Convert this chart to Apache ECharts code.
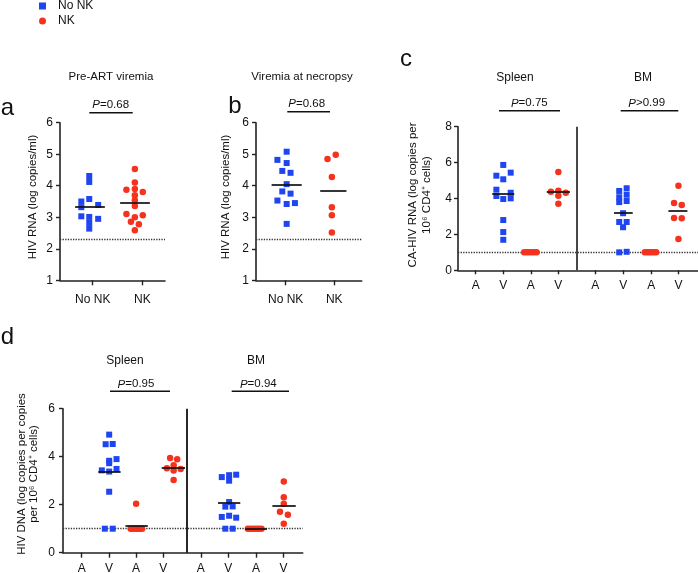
<!DOCTYPE html>
<html>
<head>
<meta charset="utf-8">
<script src="https://cdn.jsdelivr.net/npm/echarts@6/dist/echarts.min.js"></script>
<style>
html,body{margin:0;padding:0;background:#fff;}
#main{width:698px;height:573px;}
</style>
</head>
<body>
<div id="main"></div>
<script>
// ---------------- DATA ----------------
const groupNames = ['No NK', 'NK'];

// Panel a: Pre-ART viremia
const aTickLabels = ['No NK', 'NK'];
const aNoNK = [4.31, 4.12, 3.58, 3.50, 3.39, 3.32, 3.03, 3.01, 2.95, 2.82, 2.64];
const aNoNKJitter = [-0.07, -0.07, -0.07, -0.23, 0.11, -0.23, -0.23, -0.07, 0.11, -0.07, -0.07];
const aNK = [4.53, 4.10, 3.90, 3.87, 3.80, 3.70, 3.54, 3.36, 3.10, 3.06, 3.00, 2.86, 2.78, 2.59];
const aNKJitter = [-0.15, -0.15, -0.15, -0.32, 0.01, -0.15, -0.15, -0.15, -0.32, 0.01, -0.15, -0.23, -0.07, -0.15];
const aCenters = [3.34, 3.45];
const aLimit = 2.3;

// Panel b: Viremia at necropsy
const bTickLabels = ['No NK', 'NK'];
const bNoNK = [5.08, 4.82, 4.72, 4.47, 4.41, 4.05, 3.82, 3.75, 3.53, 3.45, 3.42, 2.79];
const bNoNKJitter = [0.02, -0.17, 0.02, -0.07, 0.10, 0.02, -0.07, 0.10, -0.17, 0.19, 0.02, 0.02];
const bNK = [4.98, 4.85, 4.28, 3.32, 3.06, 2.52];
const bNKJitter = [0.03, -0.14, -0.05, -0.05, -0.05, -0.05];
const bCenters = [4.03, 3.84];
const bLimit = 2.3;

// Panel c: CA-HIV RNA
const cTickLabels = ['A', 'V', 'A', 'V', 'A', 'V', 'A', 'V'];
const cSpleenNoNKV = [5.87, 5.44, 5.27, 5.07, 4.49, 4.32, 4.14, 4.01, 3.97, 2.80, 2.13, 1.70];
const cSpleenNoNKVJitter = [0, 0.27, -0.25, 0, -0.25, 0.27, -0.25, 0.27, 0, 0, 0, 0];
const cSpleenNKA = [1, 1, 1, 1, 1, 1];
const cSpleenNKAJitter = [-0.24, -0.15, -0.06, 0.03, 0.12, 0.21];
const cSpleenNKV = [5.48, 4.43, 4.38, 4.32, 4.16, 3.71];
const cSpleenNKVJitter = [0, 0, -0.27, 0.27, 0, 0];
const cBMNoNKV = [4.57, 4.42, 4.21, 4.07, 3.86, 3.80, 3.18, 2.69, 2.69, 2.40, 1.03, 1.00];
const cBMNoNKVJitter = [0.12, -0.15, 0.12, -0.15, 0.12, -0.15, -0.01, -0.15, 0.12, -0.01, 0.12, -0.15];
const cBMNKA = [1, 1, 1, 1, 1, 1];
const cBMNKAJitter = [-0.23, -0.15, -0.07, 0.02, 0.10, 0.18];
const cBMNKV = [4.71, 3.75, 3.64, 2.91, 2.90, 1.74];
const cBMNKVJitter = [0, -0.16, 0.12, -0.16, 0.12, 0];
const cCenters = [4.25, 4.35, 3.21, 3.30];
const cLimit = 1;

// Panel d: HIV DNA
const dTickLabels = ['A', 'V', 'A', 'V', 'A', 'V', 'A', 'V'];
const dSpleenNoNKV = [4.92, 4.53, 4.52, 3.90, 3.83, 3.73, 3.49, 3.43, 3.38, 2.54, 1.00, 1.00];
const dSpleenNoNKVJitter = [0.01, 0.14, -0.12, 0.28, 0.01, 0.01, 0.28, -0.26, 0.01, 0.01, -0.15, 0.14];
const dSpleenNKA = [2.04, 1, 1, 1, 1, 1, 1];
const dSpleenNKAJitter = [0, -0.2, -0.12, -0.03, 0.05, 0.14, 0.22];
const dSpleenNKV = [3.95, 3.89, 3.64, 3.52, 3.49, 3.42, 3.03];
const dSpleenNKVJitter = [0.25, 0.51, 0.38, 0.13, 0.64, 0.38, 0.38];
const dBMNoNKV = [3.25, 3.23, 3.15, 3.00, 2.11, 1.93, 1.92, 1.54, 1.49, 1.46, 1.00, 1.00];
const dBMNoNKVJitter = [0.29, 0.03, -0.24, 0.03, 0.03, 0.16, -0.11, 0.03, -0.24, 0.29, -0.11, 0.16];
const dBMNKA = [1, 1, 1, 1, 1, 1];
const dBMNKAJitter = [-0.3, -0.2, -0.1, 0, 0.1, 0.2];
const dBMNKV = [2.97, 2.31, 2.04, 1.71, 1.58, 1.21];
const dBMNKVJitter = [0.01, 0.01, 0.01, -0.13, 0.16, 0.01];
const dCenters = [3.36, 1.13, 3.56, 2.08, 1.00, 1.97];
const dLimit = 1;

// ---------------- STYLE / LAYOUT ----------------
const FONT = "'Liberation Sans', Arial, Helvetica, sans-serif";
const BLUE = '#1f45f0';
const RED = '#f5321e';
const AX = '#222';
const TXT = '#111';

const panels = [
  { grid: [60, 122.7, 105, 157.6], xmin: 0.34, xmax: 2.458, ticks: [1, 2], labels: aTickLabels,
    ymin: 1, ymax: 6, yint: 1, xTickLen: 5, xLabelMargin: 13, yLabelMargin: 7, limit: aLimit,
    groups: [
      { name: groupNames[0], tick: 0, values: aNoNK, jitter: aNoNKJitter, center: aCenters[0], cOff: -0.055, cHalf: 0.30 },
      { name: groupNames[1], tick: 1, values: aNK, jitter: aNKJitter, center: aCenters[1], cOff: -0.147, cHalf: 0.30 }
    ] },
  { grid: [256, 122.7, 105.7, 157.6], xmin: 0.389, xmax: 2.564, ticks: [1, 2], labels: bTickLabels,
    ymin: 1, ymax: 6, yint: 1, xTickLen: 5, xLabelMargin: 13, yLabelMargin: 7, limit: bLimit,
    groups: [
      { name: groupNames[0], tick: 0, values: bNoNK, jitter: bNoNKJitter, center: bCenters[0], cOff: 0.02, cHalf: 0.31 },
      { name: groupNames[1], tick: 1, values: bNK, jitter: bNKJitter, center: bCenters[1], cOff: -0.02, cHalf: 0.27 }
    ] },
  { grid: [458, 126.7, 240, 143.6], xmin: 0.357, xmax: 9.07, ticks: [1, 2, 3, 4, 5.34, 6.36, 7.37, 8.36], labels: cTickLabels,
    ymin: 0, ymax: 8, yint: 2, xTickLen: 4, xLabelMargin: 9, yLabelMargin: 6, limit: cLimit, divider: 4.68, dividerColor: '#333',
    groups: [
      { name: groupNames[0], tick: 1, values: cSpleenNoNKV, jitter: cSpleenNoNKVJitter, center: cCenters[0], cOff: 0, cHalf: 0.40 },
      { name: groupNames[1], tick: 2, values: cSpleenNKA, jitter: cSpleenNKAJitter },
      { name: groupNames[1], tick: 3, values: cSpleenNKV, jitter: cSpleenNKVJitter, center: cCenters[1], cOff: 0, cHalf: 0.42 },
      { name: groupNames[0], tick: 5, values: cBMNoNKV, jitter: cBMNoNKVJitter, center: cCenters[2], cOff: 0, cHalf: 0.34 },
      { name: groupNames[1], tick: 6, values: cBMNKA, jitter: cBMNKAJitter },
      { name: groupNames[1], tick: 7, values: cBMNKV, jitter: cBMNKVJitter, center: cCenters[3], cOff: -0.02, cHalf: 0.345 }
    ] },
  { grid: [63, 408.7, 239.7, 144], xmin: 0.3125, xmax: 9.125, ticks: [1, 2, 3, 4, 5.38, 6.39, 7.41, 8.42], labels: dTickLabels,
    ymin: 0, ymax: 6, yint: 2, xTickLen: 5, xLabelMargin: 10, yLabelMargin: 8, limit: dLimit, divider: 4.88, dividerColor: '#111',
    groups: [
      { name: groupNames[0], tick: 1, values: dSpleenNoNKV, jitter: dSpleenNoNKVJitter, center: dCenters[0], cOff: 0.02, cHalf: 0.41 },
      { name: groupNames[1], tick: 2, values: dSpleenNKA, jitter: dSpleenNKAJitter, center: dCenters[1], cOff: 0.02, cHalf: 0.41 },
      { name: groupNames[1], tick: 3, values: dSpleenNKV, jitter: dSpleenNKVJitter, center: dCenters[2], cOff: 0.37, cHalf: 0.43 },
      { name: groupNames[0], tick: 5, values: dBMNoNKV, jitter: dBMNoNKVJitter, center: dCenters[3], cOff: 0.03, cHalf: 0.41 },
      { name: groupNames[1], tick: 6, values: dBMNKA, jitter: dBMNKAJitter, center: dCenters[4], cOff: 0, cHalf: 0.40 },
      { name: groupNames[1], tick: 7, values: dBMNKV, jitter: dBMNKVJitter, center: dCenters[5], cOff: 0.02, cHalf: 0.43 }
    ] }
];

const grids = [], xAxes = [], yAxes = [], series = [];
panels.forEach((p, i) => {
  grids.push({ left: p.grid[0], top: p.grid[1], width: p.grid[2], height: p.grid[3], containLabel: false, outerBoundsMode: 'none' });
  xAxes.push({
    type: 'value', gridIndex: i, min: p.xmin, max: p.xmax,
    axisLine: { show: true, onZero: false, lineStyle: { color: AX, width: 1.6 } },
    axisTick: { show: true, customValues: p.ticks, length: p.xTickLen, lineStyle: { color: AX, width: 1.4 } },
    axisLabel: {
      show: true, customValues: p.ticks, margin: p.xLabelMargin, fontSize: 12, fontFamily: FONT, color: TXT,
      formatter: (v) => { for (let k = 0; k < p.ticks.length; k++) { if (Math.abs(p.ticks[k] - v) < 1e-6) return p.labels[k]; } return ''; }
    },
    splitLine: { show: false }
  });
  yAxes.push({
    type: 'value', gridIndex: i, min: p.ymin, max: p.ymax, interval: p.yint,
    axisLine: { show: true, onZero: false, lineStyle: { color: AX, width: 1.6 } },
    axisTick: { show: true, length: 4, lineStyle: { color: AX, width: 1.4 } },
    axisLabel: { margin: p.yLabelMargin, fontSize: 12, fontFamily: FONT, color: TXT },
    splitLine: { show: false }
  });
  const decor = [{ yAxis: p.limit, lineStyle: { type: [1.3, 1.3], color: '#333', width: 1.3 } }];
  if (p.divider != null) decor.push({ xAxis: p.divider, lineStyle: { type: 'solid', color: p.dividerColor, width: 1.8 } });
  series.push({
    type: 'line', xAxisIndex: i, yAxisIndex: i, data: [], silent: true,
    markLine: { silent: true, symbol: ['none', 'none'], label: { show: false }, z: 1, animation: false, data: decor }
  });
  p.groups.forEach((g) => {
    const isBlue = g.name === groupNames[0];
    series.push({
      type: 'scatter', name: g.name, xAxisIndex: i, yAxisIndex: i, z: 3,
      symbol: isBlue ? 'rect' : 'circle', symbolSize: isBlue ? 6 : 6.5,
      itemStyle: { color: isBlue ? BLUE : RED, opacity: 1 },
      data: g.values.map((v, k) => [p.ticks[g.tick] + g.jitter[k], v])
    });
  });
  const centerLines = p.groups.filter(g => g.center != null).map(g => {
    const c = p.ticks[g.tick] + g.cOff;
    return [{ coord: [c - g.cHalf, g.center] }, { coord: [c + g.cHalf, g.center] }];
  });
  series.push({
    type: 'line', xAxisIndex: i, yAxisIndex: i, data: [], silent: true,
    markLine: { silent: true, symbol: ['none', 'none'], label: { show: false }, z: 6, animation: false,
      lineStyle: { color: '#111', width: 1.7, type: 'solid' }, data: centerLines }
  });
});

function txt(x, y, text, size, extra) {
  return Object.assign({ type: 'text', x: x, y: y, silent: true,
    style: { text: text, fontSize: size, fontFamily: FONT, fill: TXT, align: 'center', verticalAlign: 'middle', textAlign: 'center', textVerticalAlign: 'middle' } }, extra || {});
}
function ptxt(x, y, rest) {
  return { type: 'text', x: x, y: y, silent: true,
    style: { text: '{i|P}{n|' + rest + '}', fontSize: 11.5, fontFamily: FONT, fill: TXT, align: 'center', verticalAlign: 'middle', textAlign: 'center', textVerticalAlign: 'middle',
      rich: { i: { fontStyle: 'italic', fontSize: 11.5, fontFamily: FONT, fill: TXT }, n: { fontSize: 11.5, fontFamily: FONT, fill: TXT } } } };
}
function hline(x1, x2, y) {
  return { type: 'line', silent: true, shape: { x1: x1, y1: y, x2: x2, y2: y }, style: { stroke: TXT, lineWidth: 1.4 } };
}
const R90 = Math.PI / 2;
const cTitle = txt(420, 195, 'CA-HIV RNA (log copies per\n10\u2076 CD4\u207A cells)', 11.5, { rotation: R90 });
cTitle.style.lineHeight = 13.4;
const dTitle = txt(27.5, 474, 'HIV DNA (log copies per copies\nper 10\u2076 CD4\u207A cells)', 11.5, { rotation: R90 });
dTitle.style.lineHeight = 11.8;
const graphics = [
  txt(7.5, 108, 'a', 24), txt(235, 106, 'b', 24), txt(406, 59, 'c', 24), txt(7.5, 337, 'd', 24),
  txt(111, 77, 'Pre-ART viremia', 11.5), txt(302, 77, 'Viremia at necropsy', 11.5),
  txt(515, 78, 'Spleen', 12), txt(643, 78, 'BM', 12),
  txt(125, 361, 'Spleen', 12), txt(256, 361, 'BM', 12),
  ptxt(110.7, 105, '=0.68'), hline(89.3, 132.7, 112.7),
  ptxt(306.7, 104, '=0.68'), hline(287.3, 330, 111.7),
  ptxt(529.3, 103.3, '=0.75'), hline(499, 560, 110.7),
  ptxt(646.7, 103.3, '>0.99'), hline(620.7, 678.3, 110.7),
  ptxt(136, 384.3, '=0.95'), hline(110, 170, 391.3),
  ptxt(258.3, 384.3, '=0.94'), hline(231.7, 289, 391.3),
  txt(33, 197, 'HIV RNA (log copies/ml)', 11.5, { rotation: R90 }),
  txt(226, 197, 'HIV RNA (log copies/ml)', 11.5, { rotation: R90 }),
  cTitle, dTitle
];

const chart = echarts.init(document.getElementById('main'), null, { renderer: 'canvas', width: 698, height: 573 });
chart.setOption({
  animation: false,
  backgroundColor: '#fff',
  textStyle: { fontFamily: FONT },
  legend: {
    data: [{ name: groupNames[0], icon: 'rect' }, { name: groupNames[1], icon: 'circle' }],
    orient: 'vertical', left: 39, top: 0, padding: 0, itemWidth: 7, itemHeight: 7, itemGap: 3, selectedMode: false,
    textStyle: { fontSize: 12, fontFamily: FONT, color: TXT, lineHeight: 12, padding: [0, 0, 0, 7] }
  },
  grid: grids, xAxis: xAxes, yAxis: yAxes, series: series, graphic: graphics
});
</script>
</body>
</html>
